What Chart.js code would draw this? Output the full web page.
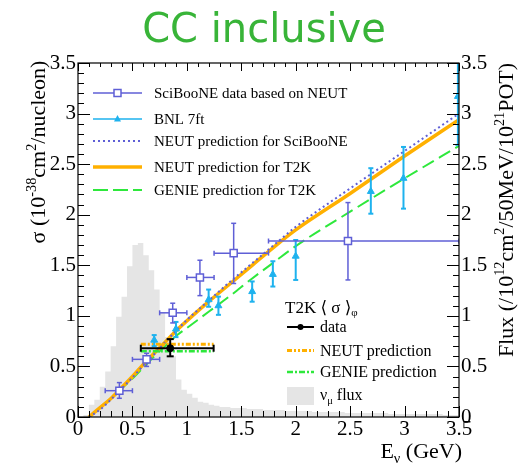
<!DOCTYPE html>
<html><head><meta charset="utf-8">
<script src="https://cdn.jsdelivr.net/npm/chart.js@4"></script>
<style>html,body{margin:0;padding:0;background:#fff}#wrap{width:521px;height:464px;position:relative}</style>
</head><body><div id="wrap"><canvas id="c" width="521" height="464"></canvas></div>
<script>
const SERIF = "'Liberation Serif','Times New Roman','DejaVu Serif',serif";

// ---------- data ----------
const titleText = "CC inclusive";

// nu_mu flux histogram (lower bin edges, GeV) and content
const fluxBinLow = [0.00,0.05,0.10,0.15,0.20,0.25,0.30,0.35,0.40,0.45,0.50,0.55,0.60,0.65,0.70,0.75,0.80,0.85,0.90,0.95,
  1.00,1.05,1.10,1.15,1.20,1.25,1.30,1.35,1.40,1.45,1.50,1.55,1.60,1.65,1.70,1.75,1.80,1.85,1.90,1.95,
  2.00,2.05,2.10,2.15,2.20,2.25,2.30,2.35,2.40,2.45,2.50,2.55,2.60,2.65,2.70,2.75,2.80,2.85,2.90,2.95,
  3.00,3.05,3.10,3.15,3.20,3.25,3.30,3.35,3.40,3.45,3.50];
const fluxValues = [0.00,0.02,0.12,0.17,0.30,0.45,0.70,0.99,1.19,1.49,1.70,1.72,1.60,1.45,1.26,1.03,0.79,0.60,0.37,0.27,
  0.23,0.19,0.15,0.14,0.12,0.11,0.10,0.10,0.09,0.09,0.09,0.08,0.08,0.08,0.07,0.07,0.07,0.07,0.06,0.06,
  0.06,0.06,0.06,0.05,0.05,0.05,0.05,0.05,0.05,0.04,0.04,0.04,0.04,0.04,0.04,0.04,0.04,0.03,0.03,0.03,
  0.03,0.03,0.03,0.03,0.03,0.03,0.03,0.02,0.02,0.02,0.02];

// model predictions
const curveE      = [0.10,0.20,0.30,0.40,0.50,0.60,0.70,0.80,0.90,1.00,1.20,1.40,1.60,1.80,2.00,2.50,3.00,3.50];
const neutT2K     = [0.00,0.09,0.18,0.29,0.40,0.52,0.63,0.74,0.85,0.95,1.14,1.32,1.50,1.68,1.85,2.21,2.58,2.94];
const neutSciBooNE= [0.00,0.07,0.17,0.28,0.39,0.51,0.62,0.74,0.85,0.96,1.15,1.34,1.52,1.70,1.88,2.26,2.63,3.00];
const genieT2K    = [0.00,0.09,0.18,0.28,0.38,0.49,0.60,0.70,0.80,0.88,1.04,1.20,1.37,1.53,1.69,2.03,2.36,2.68];

// SciBooNE data based on NEUT
const sciE     = [0.38,0.63,0.87,1.12,1.43,2.48];
const sciXlo   = [0.25,0.50,0.75,1.00,1.25,1.75];
const sciXhi   = [0.50,0.75,1.00,1.25,1.75,3.50];
const sciSigma = [0.26,0.57,1.03,1.38,1.62,1.74];
const sciYlo   = [0.185,0.50,0.93,1.20,1.32,1.355];
const sciYhi   = [0.34,0.63,1.125,1.55,1.915,2.12];

// BNL 7ft
const bnlE     = [0.70,0.90,1.20,1.29,1.60,1.79,2.00,2.69,2.99,3.49];
const bnlSigma = [0.76,0.87,1.16,1.10,1.24,1.41,1.59,2.23,2.36,3.17];
const bnlLo    = [0.70,0.79,1.09,1.01,1.14,1.29,1.355,2.01,2.06,2.69];
const bnlHi    = [0.81,0.94,1.26,1.19,1.34,1.54,1.75,2.46,2.67,3.70];

// T2K flux-averaged cross section
const t2kE = [0.847], t2kSigma = [0.68], t2kLo = [0.60], t2kHi = [0.77];
const t2kRangeLo = [0.577], t2kRangeHi = [1.246];
const t2kNeut = [0.72], t2kGenie = [0.65];

// tick labels
const tickValues = [0, 0.5, 1, 1.5, 2, 2.5, 3, 3.5];
const tickLabels = ['0','0.5','1','1.5','2','2.5','3','3.5'];

// colours
const C_SCI = '#5f5fd6', C_BNL = '#1eb2ee', C_NEUT = '#ffb000', C_GENIE = '#2ee83c', C_FLUX = '#e5e5e5';

function pts(xs, ys){ return xs.map((x,i)=>({x:x, y:ys[i]})); }
function tickLabel(v){ const i = tickValues.findIndex(t=>Math.abs(t-v)<1e-6); return i>=0 ? tickLabels[i] : ''; }

// ---------- helpers ----------
function fnt(size){ return size + "px " + SERIF; }
function richWidth(ctx, segs, size){
  let w = 0;
  for (const s of segs){ ctx.font = fnt((s.sup||s.sub)? size*0.65 : size); w += ctx.measureText(s.t).width; }
  return w;
}
function drawRich(ctx, segs, x, y, size){ // x = left, y = alphabetic baseline
  let cx = x;
  ctx.textAlign = 'left'; ctx.textBaseline = 'alphabetic';
  for (const s of segs){
    const sz = (s.sup||s.sub)? size*0.65 : size;
    ctx.font = fnt(sz);
    const dy = s.sup ? -size*0.42 : (s.sub ? size*0.22 : 0);
    ctx.fillText(s.t, cx, y + dy);
    cx += ctx.measureText(s.t).width;
  }
}

const errorBars = {
  id:'errorBars',
  beforeDatasetDraw(chart, args){
    const ds = chart.data.datasets[args.index];
    if (!ds.err) return;
    const e = ds.err, {ctx, chartArea:a, scales:{x, y}} = chart;
    ctx.save();
    ctx.beginPath(); ctx.rect(a.left, a.top, a.right-a.left, a.bottom-a.top); ctx.clip();
    ctx.strokeStyle = e.color; ctx.lineWidth = e.width; ctx.setLineDash([]);
    const seg = (x1,y1,x2,y2)=>{ ctx.beginPath(); ctx.moveTo(x1,y1); ctx.lineTo(x2,y2); ctx.stroke(); };
    for (let i=0;i<e.x.length;i++){
      const px = x.getPixelForValue(e.x[i]), py = y.getPixelForValue(e.y[i]);
      const y1 = y.getPixelForValue(e.ylo[i]), y2 = y.getPixelForValue(e.yhi[i]);
      seg(px,y1,px,y2); seg(px-e.cap,y1,px+e.cap,y1); seg(px-e.cap,y2,px+e.cap,y2);
      if (e.xlo){
        const x1 = x.getPixelForValue(e.xlo[i]), x2 = x.getPixelForValue(e.xhi[i]);
        seg(x1,py,x2,py); seg(x1,py-e.cap,x1,py+e.cap); seg(x2,py-e.cap,x2,py+e.cap);
      }
    }
    ctx.restore();
  }
};

const decor = {
  id:'decor',
  afterDraw(chart){
    const {ctx, chartArea:a, scales:{x, y}} = chart;
    ctx.save();
    // title
    ctx.fillStyle = '#38b438'; ctx.font = "40px 'DejaVu Sans', sans-serif";
    ctx.textAlign = 'center'; ctx.textBaseline = 'alphabetic';
    ctx.fillText(titleText, 264, 42);
    // frame + inward ticks
    ctx.strokeStyle = '#000'; ctx.lineWidth = 1.2; ctx.setLineDash([]);
    ctx.strokeRect(a.left, a.top, a.right-a.left, a.bottom-a.top);
    ctx.lineWidth = 1;
    for (let i=0;i<=35;i++){
      const v = i/10, major = (i%5===0);
      const px = Math.round(x.getPixelForValue(v))+0.5, py = Math.round(y.getPixelForValue(v))+0.5;
      ctx.beginPath();
      ctx.moveTo(px, a.bottom); ctx.lineTo(px, a.bottom-(major?11:6));
      ctx.moveTo(px, a.top); ctx.lineTo(px, a.top+(major?8:4));
      ctx.moveTo(a.left, py); ctx.lineTo(a.left+(major?12:6), py);
      ctx.moveTo(a.right, py); ctx.lineTo(a.right-(major?12:6), py);
      ctx.stroke();
    }
    ctx.fillStyle = '#000';
    // axis titles
    const ySegs = [{t:'\u03C3 (10'},{t:'-38',sup:true},{t:'cm'},{t:'2',sup:true},{t:'/nucleon)'}];
    const yw = richWidth(ctx, ySegs, 22);
    ctx.save(); ctx.translate(38, 152); ctx.rotate(-Math.PI/2);
    drawRich(ctx, ySegs, -yw/2, 7, 22); ctx.restore();
    const rSegs = [{t:'Flux (/10'},{t:'12',sup:true},{t:'cm'},{t:'2',sup:true},{t:'/50MeV/10'},{t:'21',sup:true},{t:'POT)'}];
    const rw = richWidth(ctx, rSegs, 22);
    ctx.save(); ctx.translate(506, 210); ctx.rotate(-Math.PI/2);
    drawRich(ctx, rSegs, -rw/2, 7, 22); ctx.restore();
    const xSegs = [{t:'E'},{t:'\u03BD',sub:true},{t:' (GeV)'}];
    const xw = richWidth(ctx, xSegs, 22);
    drawRich(ctx, xSegs, 462 - xw, 458, 22);

    // ---- top legend ----
    const L1 = 93, L2 = 142, TX = 154, fs = 15;
    const rows = [93, 119, 141, 167, 190];
    const line = (y0, color, w, dash)=>{ ctx.strokeStyle=color; ctx.lineWidth=w; ctx.setLineDash(dash); ctx.beginPath(); ctx.moveTo(L1,y0); ctx.lineTo(L2,y0); ctx.stroke(); ctx.setLineDash([]); };
    line(rows[0], C_SCI, 1.5, []);
    ctx.fillStyle='#fff'; ctx.strokeStyle=C_SCI; ctx.lineWidth=1.5;
    ctx.fillRect((L1+L2)/2-3.5, rows[0]-3.5, 7, 7); ctx.strokeRect((L1+L2)/2-3.5, rows[0]-3.5, 7, 7);
    line(rows[1], C_BNL, 1.5, []);
    ctx.fillStyle=C_BNL; ctx.beginPath(); const tc=(L1+L2)/2;
    ctx.moveTo(tc, rows[1]-4); ctx.lineTo(tc+3.5, rows[1]+2.5); ctx.lineTo(tc-3.5, rows[1]+2.5); ctx.closePath(); ctx.fill();
    line(rows[2], C_SCI, 2, [2,3]);
    line(rows[3], C_NEUT, 3.5, []);
    line(rows[4], C_GENIE, 2, [15,5]);
    ctx.fillStyle = '#000';
    const labels = ['SciBooNE data based on NEUT','BNL 7ft','NEUT prediction for SciBooNE','NEUT prediction for T2K','GENIE prediction for T2K'];
    labels.forEach((t,i)=> drawRich(ctx, [{t:t}], TX, rows[i]+fs*0.33, fs));

    // ---- bottom legend ----
    const B1 = 287, B2 = 314, BX = 320, bs = 16;
    drawRich(ctx, [{t:'T2K \u27E8 \u03C3 \u27E9'},{t:'\u03C6',sub:true}], 285, 307+17*0.33, 17);
    const bl = (y0, color, w, dash)=>{ ctx.strokeStyle=color; ctx.lineWidth=w; ctx.setLineDash(dash); ctx.beginPath(); ctx.moveTo(B1,y0); ctx.lineTo(B2,y0); ctx.stroke(); ctx.setLineDash([]); };
    bl(327, '#000', 2, []);
    ctx.fillStyle='#000'; ctx.beginPath(); ctx.arc((B1+B2)/2, 327, 3, 0, Math.PI*2); ctx.fill();
    bl(350.5, C_NEUT, 3, [5,2,2,2,2,2]);
    bl(372, C_GENIE, 2.5, [6,2,2,2]);
    ctx.fillStyle = C_FLUX; ctx.fillRect(B1, 387, B2-B1, 18);
    ctx.fillStyle = '#000';
    drawRich(ctx, [{t:'data'}], BX, 327+bs*0.33, bs);
    drawRich(ctx, [{t:'NEUT prediction'}], BX, 350.5+bs*0.33, bs);
    drawRich(ctx, [{t:'GENIE prediction'}], BX, 372+bs*0.33, bs);
    drawRich(ctx, [{t:'\u03BD'},{t:'\u03BC',sub:true},{t:' flux'}], BX, 395+bs*0.33, bs);
    ctx.restore();
  }
};

const tickFont = {family: SERIF, size: 21};
new Chart(document.getElementById('c'), {
  type: 'line',
  data: { datasets: [
    { label:'flux', data: pts(fluxBinLow, fluxValues), yAxisID:'y2', stepped:true, fill:'origin',
      backgroundColor:C_FLUX, borderColor:'rgba(0,0,0,0)', borderWidth:0, pointRadius:0, order:10 },
    { label:'GENIE T2K', data: pts(curveE, genieT2K), borderColor:C_GENIE, borderWidth:2, borderDash:[13,6],
      pointRadius:0, cubicInterpolationMode:'monotone', fill:false, order:6 },
    { label:'NEUT T2K', data: pts(curveE, neutT2K), borderColor:C_NEUT, borderWidth:3.5,
      pointRadius:0, cubicInterpolationMode:'monotone', fill:false, order:5 },
    { label:'NEUT SciBooNE', data: pts(curveE, neutSciBooNE), borderColor:C_SCI, borderWidth:2, borderDash:[2,3],
      pointRadius:0, cubicInterpolationMode:'monotone', fill:false, order:4 },
    { label:'T2K NEUT avg', data: [{x:t2kRangeLo[0], y:t2kNeut[0]},{x:t2kRangeHi[0], y:t2kNeut[0]}],
      borderColor:C_NEUT, borderWidth:3, borderDash:[5,2,2,2,2,2], pointRadius:0, fill:false, order:3 },
    { label:'T2K GENIE avg', data: [{x:t2kRangeLo[0], y:t2kGenie[0]},{x:t2kRangeHi[0], y:t2kGenie[0]}],
      borderColor:C_GENIE, borderWidth:2.5, borderDash:[6,2,2,2], pointRadius:0, fill:false, order:3 },
    { label:'SciBooNE', data: pts(sciE, sciSigma), showLine:false, pointStyle:'rect', pointRadius:5,
      pointBackgroundColor:'#fff', pointBorderColor:C_SCI, pointBorderWidth:1.5, order:2,
      err:{x:sciE, y:sciSigma, ylo:sciYlo, yhi:sciYhi, xlo:sciXlo, xhi:sciXhi, color:C_SCI, width:1.5, cap:2.5} },
    { label:'BNL', data: pts(bnlE, bnlSigma), showLine:false, pointStyle:'triangle', pointRadius:4,
      pointBackgroundColor:C_BNL, pointBorderColor:C_BNL, pointBorderWidth:1, order:2,
      err:{x:bnlE, y:bnlSigma, ylo:bnlLo, yhi:bnlHi, color:C_BNL, width:2, cap:2.5} },
    { label:'T2K data', data: pts(t2kE, t2kSigma), showLine:false, pointStyle:'circle', pointRadius:3.5,
      pointBackgroundColor:'#000', pointBorderColor:'#000', order:1,
      err:{x:t2kE, y:t2kSigma, ylo:t2kLo, yhi:t2kHi, xlo:t2kRangeLo, xhi:t2kRangeHi, color:'#000', width:2, cap:3.5} }
  ]},
  options: {
    responsive:false, animation:false, events:[],
    layout:{padding:{top:63, left:0, right:0, bottom:0}},
    plugins:{legend:{display:false}, tooltip:{enabled:false}, title:{display:false}},
    scales:{
      x:{type:'linear', position:'bottom', min:0, max:3.5,
         ticks:{stepSize:0.5, autoSkip:false, maxRotation:0, font:tickFont, color:'#000', padding:0, callback:tickLabel},
         grid:{display:false, drawTicks:false}, border:{display:false}, afterFit(s){ s.height = 47; }},
      y:{type:'linear', position:'left', min:0, max:3.5,
         ticks:{stepSize:0.5, autoSkip:false, font:tickFont, color:'#000', padding:2, callback:tickLabel},
         grid:{display:false, drawTicks:false}, border:{display:false}, afterFit(s){ s.width = 78; }},
      y2:{type:'linear', position:'right', min:0, max:3.5,
         ticks:{stepSize:0.5, autoSkip:false, font:tickFont, color:'#000', padding:2, callback:tickLabel},
         grid:{display:false, drawTicks:false}, border:{display:false}, afterFit(s){ s.width = 62; }}
    }
  },
  plugins:[errorBars, decor]
});
</script></body></html>
